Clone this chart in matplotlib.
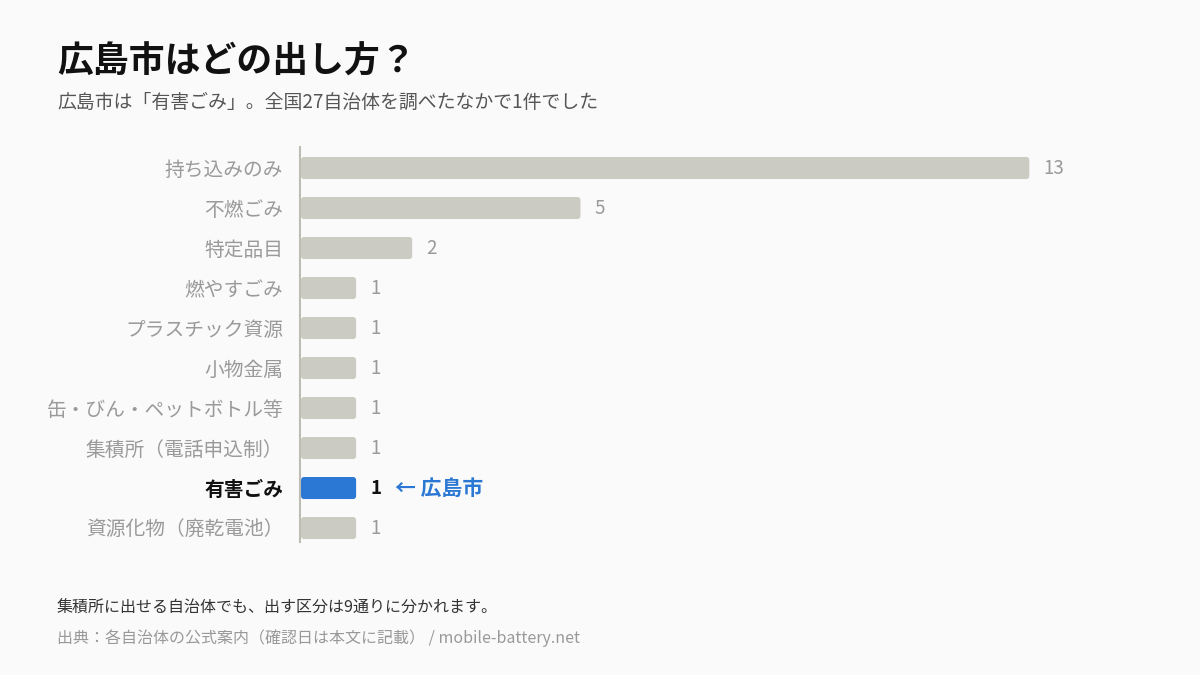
import matplotlib
matplotlib.use('Agg')
from matplotlib import pyplot as plt
from matplotlib.patches import FancyBboxPatch

plt.rcParams['font.family'] = ['Noto Sans CJK JP', 'DejaVu Sans']

categories = ['持ち込みのみ', '不燃ごみ', '特定品目', '燃やすごみ', 'プラスチック資源',
              '小物金属', '缶・びん・ペットボトル等', '集積所（電話申込制）', '有害ごみ',
              '資源化物（廃乾電池）']
counts = [13, 5, 2, 1, 1, 1, 1, 1, 1, 1]
highlight = '有害ごみ'

title = '広島市はどの出し方？'
subtitle = '広島市は「有害ごみ」。全国27自治体を調べたなかで1件でした'
note = '集積所に出せる自治体でも、出す区分は9通りに分かれます。'
source = '出典：各自治体の公式案内（確認日は本文に記載） / mobile-battery.net'

bg = '#fafafa'
gray_bar = '#cbcbc3'
blue = '#2b78d4'
label_gray = '#9a9a9a'

fig = plt.figure(figsize=(12, 6.75), dpi=100, facecolor=bg)
ax = fig.add_axes([0.25, 0.197, 0.69, 0.5852])
ax.set_facecolor(bg)

unit = 56.1  # pixels per count
xmax = 828 / unit
ax.set_xlim(0, xmax)
ax.set_ylim(9.35, -0.525)

ypos = list(range(len(categories)))
bars = ax.barh(ypos, counts, height=0.55, color='none')
for bar, cat, val in zip(bars, categories, counts):
    hl = cat == highlight
    x0, y0 = bar.get_x(), bar.get_y()
    w, h = bar.get_width(), bar.get_height()
    r = 3 / unit
    p = FancyBboxPatch((x0 + 1 / unit, y0), w - 1 / unit, h,
                       boxstyle='round,pad=0,rounding_size=%f' % r,
                       mutation_aspect=unit / 40,
                       facecolor=blue if hl else gray_bar, edgecolor='none')
    ax.add_patch(p)
    yc = y0 + h / 2
    ax.text(val + 14 / unit, yc, str(val), va='center', ha='left',
            fontsize=13.5, color='#111111' if hl else label_gray,
            fontweight='bold' if hl else 'normal')
    if hl:
        ax.text(val + 39 / unit, yc, '← 広島市', va='center', ha='left',
                fontsize=15, color=blue, fontweight='bold')

ax.set_yticks(ypos)
ax.set_yticklabels(categories, fontsize=14.2)
for lbl, cat in zip(ax.get_yticklabels(), categories):
    if cat == highlight:
        lbl.set_color('#111111')
        lbl.set_fontweight('bold')
    else:
        lbl.set_color(label_gray)
ax.tick_params(axis='y', length=0, pad=12)
ax.set_xticks([])
for s in ['top', 'right', 'bottom']:
    ax.spines[s].set_visible(False)
ax.spines['left'].set_color('#bdbdb5')
ax.spines['left'].set_linewidth(1.5)

fig.text(57 / 1200, 1 - 62 / 675, title, fontsize=25.8, fontweight='bold',
         color='#111111', va='center', ha='left')
fig.text(57 / 1200, 1 - 102 / 675, subtitle, fontsize=13.6, color='#555555',
         va='center', ha='left')
fig.text(57 / 1200, 1 - 608 / 675, note, fontsize=11.5, color='#333333',
         va='center', ha='left')
fig.text(57 / 1200, 1 - 638 / 675, source, fontsize=11.5, color='#999999',
         va='center', ha='left')

fig.savefig('out.png', dpi=100, facecolor=bg)
